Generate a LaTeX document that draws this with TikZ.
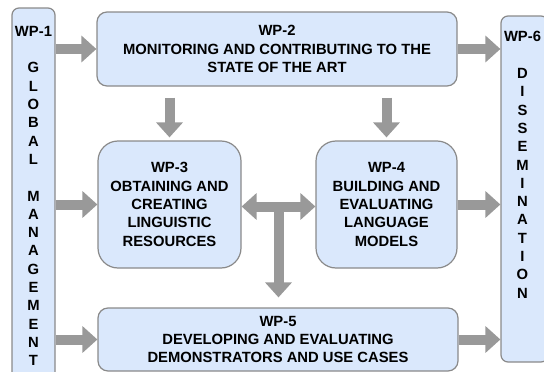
\documentclass[tikz,border=0pt]{standalone}
\usepackage{fontspec}
\setmainfont{Liberation Sans}
\usetikzlibrary{arrows.meta,calc}
\definecolor{boxfill}{HTML}{DAE8FC}
\definecolor{boxline}{HTML}{8A8A8A}
\definecolor{arrowgray}{HTML}{999999}
\begin{document}
\begin{tikzpicture}[x=1pt,y=-1pt,
  wp/.style={draw=boxline, fill=boxfill, line width=1.2pt, rounded corners=10pt,
    align=center, font=\bfseries\fontsize{14.8}{18.3}\selectfont, inner sep=0pt},
  lbl/.style={align=center, font=\bfseries\fontsize{14.8}{18.3}\selectfont, inner sep=0pt},
  fat/.style={draw=arrowgray, line width=10pt, -{Triangle[width=26pt,length=15pt]}},
  fatboth/.style={draw=arrowgray, line width=10pt, {Triangle[width=26pt,length=15pt]}-{Triangle[width=26pt,length=15pt]}}
]
\useasboundingbox (0,0) rectangle (544,372);
\clip (0,0) rectangle (544,372);

\node[wp, rounded corners=7pt, minimum width=43pt, minimum height=376pt] (wp1) at (33.5,196)
  {WP-1\\[18.3pt]G\\L\\O\\B\\A\\L\\[18.3pt]M\\A\\N\\A\\G\\E\\M\\E\\N\\T};
\node[wp, minimum width=360pt, minimum height=74pt] (wp2) at (277,49)
  {WP-2\\MONITORING AND CONTRIBUTING TO THE\\STATE OF THE ART};
\node[wp, rounded corners=20pt, minimum width=143pt, minimum height=127pt] (wp3) at (169.5,204.5)
  {WP-3\\OBTAINING AND\\CREATING\\LINGUISTIC\\RESOURCES};
\node[wp, rounded corners=20pt, minimum width=141pt, minimum height=127pt] (wp4) at (386.5,204.5)
  {WP-4\\BUILDING AND\\EVALUATING\\LANGUAGE\\MODELS};
\node[wp, minimum width=360pt, minimum height=63pt] (wp5) at (278,339.5)
  {WP-5\\DEVELOPING AND EVALUATING\\DEMONSTRATORS AND USE CASES};
\node[wp, rounded corners=7pt, minimum width=47pt, minimum height=346pt] (wp6) at (524.5,189) {};
\node[lbl, anchor=north] (wp6t) at ([yshift=-16pt]wp6.north -| 522.5,0)
  {WP-6\\[18.3pt]D\\I\\S\\S\\E\\M\\I\\N\\A\\T\\I\\O\\N};

% arrows from WP-1
\draw[fat] (wp1.east |- wp2.west) -- (wp2.west);
\draw[fat] (wp1.east |- wp3.west) -- (wp3.west);
\draw[fat] (wp1.east |- wp5.west) -- (wp5.west);
% arrows to WP-6
\draw[fat] (wp2.east) -- (wp2.east -| wp6.west);
\draw[fat] (wp4.east) -- (wp4.east -| wp6.west);
\draw[fat] (wp5.east) -- (wp5.east -| wp6.west);
% down arrows from WP-2
\draw[fat] ([yshift=-11pt]wp2.south -| wp3.north) -- ([yshift=3pt]wp3.north);
\draw[fat] ([yshift=-11pt]wp2.south -| wp4.north) -- ([yshift=3pt]wp4.north);
% T arrow
\coordinate (tj) at ($(wp3.east)!0.5!(wp4.west)+(0,2)$);
\draw[fatboth] (wp3.east |- tj) -- (wp4.west |- tj);
\draw[fat] (tj) -- ([yshift=10pt]wp5.north -| tj);
\end{tikzpicture}
\end{document}
